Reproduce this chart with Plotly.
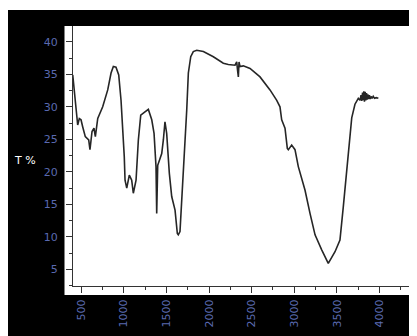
import plotly.graph_objects as go

wavenumber = [403, 433, 461, 480, 500, 520, 550, 590, 605, 629, 652, 668, 696, 754, 813, 852, 879, 910, 942, 969,
              989, 1007, 1016, 1036, 1066, 1094, 1113, 1145, 1172, 1200, 1238, 1289, 1329, 1356, 1379, 1387, 1399,
              1446, 1465, 1484, 1504, 1535, 1563, 1602, 1629, 1640, 1660, 1680, 1719, 1739, 1758, 1786, 1816, 1856,
              1934, 2051, 2168, 2226, 2305, 2325, 2334, 2344, 2352, 2363, 2402, 2481, 2598, 2715, 2794, 2832, 2852,
              2891, 2918, 2930, 2969, 3008, 3047, 3125, 3184, 3243, 3321, 3398, 3477, 3535, 3574, 3614, 3653, 3673,
              3711, 3750, 3770, 3782, 3790, 3800, 3808, 3815, 3822, 3830, 3838, 3846, 3854, 3862, 3870, 3880, 3890,
              3900, 3912, 3925, 3940, 3960, 3985]
transmittance = [34.9, 31.0, 27.2, 28.2, 28.0, 26.9, 25.4, 24.9, 23.4, 26.2, 26.7, 25.4, 28.2, 30.0, 32.6, 35.2, 36.2,
                 36.1, 34.9, 31.0, 26.9, 22.3, 18.7, 17.5, 19.5, 18.7, 16.7, 18.7, 24.9, 28.7, 29.1, 29.6, 28.0, 25.9,
                 20.8, 13.6, 21.0, 22.8, 24.9, 27.7, 25.9, 19.8, 16.2, 14.1, 10.5, 10.3, 10.8, 15.7, 23.4, 29.5, 35.2,
                 37.7, 38.5, 38.7, 38.5, 37.7, 36.7, 36.5, 36.4, 36.9, 35.7, 34.6, 36.9, 36.2, 36.3, 35.9, 34.6, 32.6,
                 31.0, 30.0, 28.0, 26.7, 23.6, 23.4, 24.1, 23.4, 20.8, 17.2, 13.6, 10.3, 8.0, 5.9, 7.7, 9.5, 14.6,
                 19.8, 25.7, 28.3, 30.4, 31.3, 31.0, 31.8, 30.9, 32.2, 31.0, 32.4, 30.8, 32.3, 31.0, 32.1, 31.1, 31.9,
                 31.2, 31.8, 31.2, 31.6, 31.3, 31.6, 31.3, 31.4, 31.3]

x_ticks = [500, 1000, 1500, 2000, 2500, 3000, 3500, 4000]
y_ticks = [5, 10, 15, 20, 25, 30, 35, 40]

LBL = "#5a6ab0"
AX = "#333333"
W, H = 409, 328
ML, MT, MB = 65, 18, 50
pw, ph = W - ML, H - MT - MB

fig = go.Figure()
fig.add_trace(go.Scatter(x=wavenumber, y=transmittance, mode="lines",
                         line=dict(color="#262626", width=1.6), showlegend=False, hoverinfo="skip"))

fig.update_layout(
    width=W, height=H,
    margin=dict(l=ML, r=0, t=MT, b=MB, pad=0),
    paper_bgcolor="black", plot_bgcolor="white",
    font=dict(family="DejaVu Sans", size=11, color=LBL),
    shapes=[
        # white extension of plot area beyond the axis lines
        dict(type="rect", xref="paper", yref="paper", x0=-8.5 / pw, x1=1.02, y0=-9 / ph, y1=1,
             fillcolor="white", line=dict(width=0), layer="below"),
        # thin white strip at the very top
        dict(type="rect", xref="paper", yref="paper", x0=-ML / pw - 0.01, x1=1.02,
             y0=1 + (MT - 2) / ph, y1=1 + MT / ph + 0.01,
             fillcolor="white", line=dict(width=0), layer="below"),
    ],
    annotations=[
        dict(text="T %", xref="paper", yref="paper", x=(17 - ML) / pw, y=(278 - 152) / ph,
             xanchor="center", yanchor="middle", showarrow=False,
             font=dict(family="DejaVu Sans", size=11, color="white")),
    ],
)
fig.update_xaxes(range=[406, 4438], tickvals=x_ticks, ticktext=[str(v) for v in x_ticks],
                 tickangle=-90, ticks="outside", ticklen=6, tickcolor=AX, tickwidth=1,
                 showline=True, linecolor=AX, linewidth=1, showgrid=False, zeroline=False,
                 ticklabelstandoff=2,
                 minor=dict(ticks="outside", ticklen=3, tickcolor=AX, dtick=250, tick0=0, showgrid=False),
                 tickfont=dict(family="DejaVu Sans", size=11, color=LBL))
fig.update_yaxes(range=[2.43, 42.43], tickvals=y_ticks, ticks="outside", ticklen=6, tickcolor=AX, tickwidth=1,
                 showline=True, linecolor=AX, linewidth=1, showgrid=False, zeroline=False,
                 ticklabelstandoff=6,
                 minor=dict(ticks="outside", ticklen=3, tickcolor=AX, dtick=2.5, tick0=0, showgrid=False),
                 tickfont=dict(family="DejaVu Sans", size=11, color=LBL))

fig.write_html("out.html")
